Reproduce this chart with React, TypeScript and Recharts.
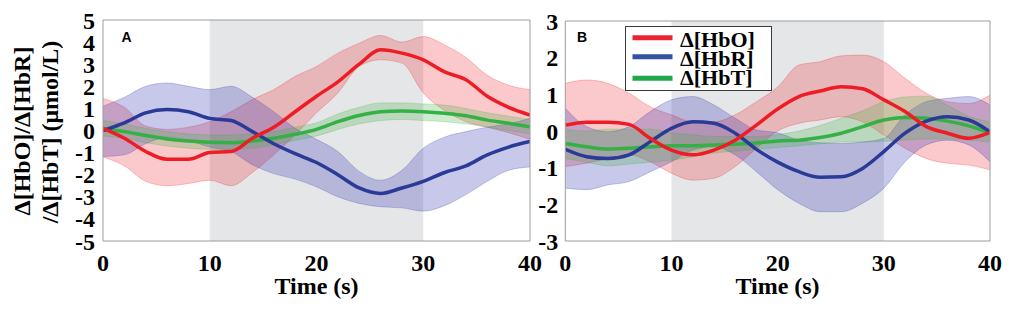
import React from 'react';
import { ComposedChart, Area, Line, XAxis, YAxis, ReferenceArea } from 'recharts';

// ---- data (time in s, values in µmol/L) ----
const TIME = [0, 2, 4, 6, 8, 10, 12, 14, 16, 18, 20, 22, 24, 26, 28, 30, 32, 34, 36, 38, 40];

// Panel A
const A_HBO = [0.1, -0.35, -0.95, -1.3, -1.3, -1.0, -0.95, -0.35, 0.15, 0.85, 1.55, 2.2, 3.0, 3.65, 3.5, 3.2, 2.65, 2.3, 1.55, 1.05, 0.7];
const A_HBO_LO = [-1.2, -1.6, -2.3, -2.5, -2.4, -2.25, -2.5, -1.9, -1.1, -0.2, 0.8, 1.7, 2.9, 3.2, 3.05, 1.7, 0.9, 0.4, 0.15, -0.1, -0.4];
const A_HBO_HI = [1.45, 1.05, 0.2, 0.05, 0.15, 0.4, 0.85, 1.4, 1.85, 2.45, 2.9, 3.5, 3.95, 4.3, 4.0, 4.25, 3.87, 3.3, 2.5, 2.05, 1.85];
const A_HBR = [0.0, 0.35, 0.8, 0.95, 0.85, 0.55, 0.45, -0.05, -0.6, -1.05, -1.45, -2.0, -2.6, -2.85, -2.6, -2.3, -1.9, -1.6, -1.1, -0.75, -0.5];
const A_HBR_LO = [-1.18, -1.1, -0.6, -0.3, -0.45, -0.75, -0.95, -1.55, -1.95, -2.2, -2.55, -3.0, -3.3, -3.45, -3.5, -3.65, -3.4, -2.9, -2.3, -1.8, -1.65];
const A_HBR_HI = [1.1, 1.5, 2.0, 2.15, 2.0, 1.85, 2.0, 1.5, 0.85, 0.1, -0.4, -0.95, -1.85, -2.25, -1.8, -0.8, -0.3, -0.05, 0.15, 0.3, 0.55];
const A_HBT = [0.07, -0.05, -0.23, -0.38, -0.47, -0.53, -0.55, -0.47, -0.35, -0.17, 0.05, 0.4, 0.68, 0.85, 0.88, 0.85, 0.78, 0.67, 0.47, 0.33, 0.17];
const A_HBT_LO = [-0.25, -0.35, -0.55, -0.7, -0.8, -0.85, -0.85, -0.8, -0.65, -0.45, -0.25, 0.05, 0.3, 0.45, 0.5, 0.45, 0.4, 0.3, 0.15, 0.0, -0.15];
const A_HBT_HI = [0.45, 0.3, 0.1, -0.05, -0.15, -0.2, -0.2, -0.15, -0.05, 0.15, 0.35, 0.75, 1.05, 1.25, 1.25, 1.2, 1.15, 1.0, 0.8, 0.65, 0.5];

// Panel B
const B_HBO = [0.16, 0.24, 0.24, 0.18, -0.2, -0.52, -0.65, -0.52, -0.25, 0.16, 0.6, 0.94, 1.09, 1.21, 1.15, 0.85, 0.53, 0.12, -0.06, -0.2, -0.04];
const B_HBO_LO = [-0.97, -0.88, -0.75, -0.65, -0.84, -1.15, -1.34, -1.29, -0.97, -0.47, 0.0, 0.21, 0.3, 0.39, 0.25, -0.11, -0.47, -0.75, -0.88, -0.93, -1.06];
const B_HBO_HI = [1.3, 1.39, 1.3, 1.03, 0.66, 0.44, 0.25, 0.25, 0.44, 0.8, 1.2, 1.8, 1.89, 2.05, 2.07, 1.89, 1.44, 1.03, 0.8, 0.75, 0.98];
const B_HBR = [-0.5, -0.7, -0.75, -0.65, -0.29, 0.07, 0.25, 0.21, -0.06, -0.5, -0.85, -1.11, -1.26, -1.25, -1.02, -0.56, -0.06, 0.27, 0.39, 0.3, -0.02];
const B_HBR_LO = [-1.56, -1.6, -1.47, -1.38, -1.11, -0.84, -0.52, -0.43, -0.65, -1.11, -1.6, -1.97, -2.2, -2.2, -1.97, -1.56, -0.84, -0.38, -0.25, -0.38, -0.84];
const B_HBR_HI = [0.62, 0.12, -0.02, 0.12, 0.53, 0.85, 0.94, 0.71, 0.35, 0.03, -0.05, -0.25, -0.32, -0.34, -0.3, -0.2, 0.44, 0.8, 0.89, 0.94, 0.71];
const B_HBT = [-0.34, -0.43, -0.49, -0.47, -0.43, -0.4, -0.4, -0.38, -0.36, -0.33, -0.27, -0.25, -0.18, -0.06, 0.12, 0.3, 0.37, 0.35, 0.27, 0.14, -0.06];
const B_HBT_LO = [-0.75, -0.85, -0.95, -0.9, -0.85, -0.8, -0.7, -0.6, -0.55, -0.5, -0.45, -0.4, -0.35, -0.3, -0.3, -0.28, -0.25, -0.22, -0.22, -0.25, -0.3];
const B_HBT_HI = [0.05, 0.0, 0.05, 0.05, 0.05, -0.05, -0.1, -0.15, -0.15, -0.15, -0.1, 0.0, 0.15, 0.35, 0.55, 0.8, 0.93, 0.95, 0.7, 0.4, 0.25];

const X_TICKS = [0, 10, 20, 30, 40];
const A_Y_TICKS = [-5, -4, -3, -2, -1, 0, 1, 2, 3, 4, 5];
const B_Y_TICKS = [-3, -2, -1, 0, 1, 2, 3];
const STIM_START = 10;
const STIM_END = 30;
const SERIES_NAMES = ['Δ[HbO]', 'Δ[HbR]', 'Δ[HbT]'];

// ---- styles ----
const RED = '#ee1c24';
const BLUE = '#2a3a96';
const GREEN = '#35b044';
const LEG_COLORS = ['#ea2330', '#3452a2', '#1fa84a'];
const AXIS_GRAY = '#9c9c9c';
const SERIF = '"Liberation Serif", "Times New Roman", serif';
const TICK_STYLE = { fontFamily: SERIF, fontWeight: 700, fontSize: 24, fill: '#000' };

function buildRows(hbo, hboLo, hboHi, hbr, hbrLo, hbrHi, hbt, hbtLo, hbtHi) {
  return TIME.map((t, i) => ({
    t,
    hbo: hbo[i],
    hbr: hbr[i],
    hbt: hbt[i],
    hboBand: [hboLo[i], hboHi[i]],
    hbrBand: [hbrLo[i], hbrHi[i]],
    hbtBand: [hbtLo[i], hbtHi[i]],
  }));
}

const ROWS_A = buildRows(A_HBO, A_HBO_LO, A_HBO_HI, A_HBR, A_HBR_LO, A_HBR_HI, A_HBT, A_HBT_LO, A_HBT_HI);
const ROWS_B = buildRows(B_HBO, B_HBO_LO, B_HBO_HI, B_HBR, B_HBR_LO, B_HBR_HI, B_HBT, B_HBT_LO, B_HBT_HI);

type PanelProps = {
  rows: any[];
  yTicks: number[];
  width: number;
  margin: { top: number; right: number; bottom: number; left: number };
  yAxisWidth: number;
  tickMarginY: number;
};

function Panel({ rows, yTicks, width, margin, yAxisWidth, tickMarginY }: PanelProps) {
  const yDomain = [yTicks[0], yTicks[yTicks.length - 1]];
  return (
    <ComposedChart width={width} height={314} data={rows} margin={margin}>
      <XAxis
        dataKey="t"
        type="number"
        domain={[0, 40]}
        ticks={X_TICKS}
        allowDataOverflow
        tickLine={false}
        axisLine={{ stroke: AXIS_GRAY }}
        tick={TICK_STYLE}
        tickMargin={7}
        height={30}
        interval={0}
      />
      <XAxis
        xAxisId="top"
        orientation="top"
        mirror
        type="number"
        domain={[0, 40]}
        ticks={X_TICKS}
        tick={false}
        tickSize={4}
        tickLine={{ stroke: AXIS_GRAY }}
        axisLine={{ stroke: AXIS_GRAY }}
      />
      <XAxis
        xAxisId="bm"
        orientation="bottom"
        mirror
        type="number"
        domain={[0, 40]}
        ticks={X_TICKS}
        tick={false}
        tickSize={4}
        tickLine={{ stroke: AXIS_GRAY }}
        axisLine={false}
      />
      <YAxis
        type="number"
        domain={yDomain}
        ticks={yTicks}
        allowDataOverflow
        interval={0}
        tickLine={false}
        axisLine={{ stroke: AXIS_GRAY }}
        tick={TICK_STYLE}
        tickMargin={tickMarginY}
        width={yAxisWidth}
      />
      <YAxis
        yAxisId="lm"
        orientation="left"
        mirror
        type="number"
        domain={yDomain}
        ticks={yTicks}
        interval={0}
        tick={false}
        tickSize={4}
        tickLine={{ stroke: AXIS_GRAY }}
        axisLine={false}
      />
      <YAxis
        yAxisId="right"
        orientation="right"
        mirror
        type="number"
        domain={yDomain}
        ticks={yTicks}
        interval={0}
        tick={false}
        tickSize={4}
        tickLine={{ stroke: AXIS_GRAY }}
        axisLine={{ stroke: AXIS_GRAY }}
      />
      <ReferenceArea x1={STIM_START} x2={STIM_END} fill="#e5e6e8" fillOpacity={1} stroke="none" ifOverflow="hidden" />
      <Area type="monotone" dataKey="hboBand" fill={RED} fillOpacity={0.24} stroke={RED} strokeOpacity={0.25} strokeWidth={1} isAnimationActive={false} dot={false} activeDot={false} />
      <Area type="monotone" dataKey="hbrBand" fill="#3434b0" fillOpacity={0.27} stroke="#3434b0" strokeOpacity={0.25} strokeWidth={1} isAnimationActive={false} dot={false} activeDot={false} />
      <Area type="monotone" dataKey="hbtBand" fill="#3fb03f" fillOpacity={0.25} stroke="#3fb03f" strokeOpacity={0.25} strokeWidth={1} isAnimationActive={false} dot={false} activeDot={false} />
      <Line type="monotone" dataKey="hbt" stroke={GREEN} strokeWidth={3.5} dot={false} activeDot={false} isAnimationActive={false} />
      <Line type="monotone" dataKey="hbr" stroke={BLUE} strokeWidth={3.5} dot={false} activeDot={false} isAnimationActive={false} />
      <Line type="monotone" dataKey="hbo" stroke={RED} strokeWidth={3.5} dot={false} activeDot={false} isAnimationActive={false} />
    </ComposedChart>
  );
}

function Overlay() {
  const titleStyle = { fontFamily: SERIF, fontWeight: 700, fontSize: 24, fill: '#000' } as const;
  const panelLetter = { fontFamily: '"Liberation Sans", Arial, sans-serif', fontWeight: 700, fontSize: 14, fill: '#000' } as const;
  return (
    <svg width={1021} height={314} style={{ position: 'absolute', left: 0, top: 0, pointerEvents: 'none' }}>
      <text transform="translate(30,131) rotate(-90)" textAnchor="middle" style={titleStyle}>Δ[HbO]/Δ[HbR]</text>
      <text transform="translate(58,132) rotate(-90)" textAnchor="middle" style={titleStyle}>/Δ[HbT] (μmol/L)</text>
      <text x={316.5} y={294} textAnchor="middle" style={titleStyle}>Time (s)</text>
      <text x={777.5} y={294} textAnchor="middle" style={titleStyle}>Time (s)</text>
      <text x={121.5} y={42} style={panelLetter}>A</text>
      <text x={577} y={41.5} style={panelLetter}>B</text>
      <rect x={625.5} y={26.5} width={146} height={64} fill="#fff" stroke="#3a3a3a" strokeWidth={1} />
      {SERIES_NAMES.map((name, i) => {
        const ly = [37.7, 56.7, 78.3][i];
        const ty = [47.3, 66, 85][i];
        return (
          <g key={name}>
            <line x1={632.5} x2={672.5} y1={ly} y2={ly} stroke={LEG_COLORS[i]} strokeWidth={5} />
            <text x={680} y={ty} style={{ fontFamily: SERIF, fontWeight: 700, fontSize: 22, fill: '#000' }}>{name}</text>
          </g>
        );
      })}
    </svg>
  );
}

export default function App() {
  return (
    <div style={{ position: 'absolute', left: 0, top: 0, width: 1021, height: 314, background: '#fff', overflow: 'hidden' }}>
      <div style={{ position: 'absolute', left: 0, top: 0 }}>
        <Panel rows={ROWS_A} yTicks={A_Y_TICKS} width={560} margin={{ top: 20, right: 30, bottom: 43, left: 0 }} yAxisWidth={103} tickMarginY={2} />
      </div>
      <div style={{ position: 'absolute', left: 520, top: 0 }}>
        <Panel rows={ROWS_B} yTicks={B_Y_TICKS} width={501} margin={{ top: 21, right: 31, bottom: 43, left: 0 }} yAxisWidth={45.3} tickMarginY={1} />
      </div>
      <Overlay />
    </div>
  );
}
